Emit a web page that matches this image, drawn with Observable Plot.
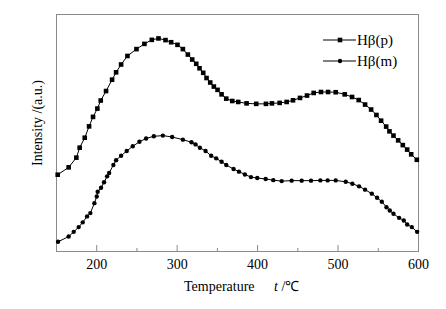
<!DOCTYPE html>
<html>
<head>
<meta charset="utf-8">
<script src="https://cdn.jsdelivr.net/npm/d3@7"></script>
<script src="https://cdn.jsdelivr.net/npm/@observablehq/plot@0.6"></script>
<style>
  html, body { margin: 0; padding: 0; background: #fff; }
  #chart { width: 446px; height: 309px; }
</style>
</head>
<body>
<div id="chart"></div>
<script>
// Hβ(p) series (squares): temperature (°C) and intensity (a.u.)
const tempP = [151.5,165.1,174.7,178.8,185.1,190.5,195.4,200.8,205.0,211.6,219.1,224.1,230.3,238.2,249.4,259.3,268.5,276.8,285.5,292.5,300.4,307.1,313.3,318.7,323.7,327.8,332.4,336.5,341.1,345.6,350.2,355.2,361.0,368.5,375.9,386.3,398.3,410.4,417.8,427.4,436.1,444.0,452.7,461.4,469.7,478.8,487.6,497.1,508.3,517.4,525.7,533.6,541.1,547.7,553.5,559.8,563.9,568.9,574.7,580.5,585.9,590.9,597.9];
const intP = [32.4,35.5,39.6,43.8,48.0,52.8,56.8,60.3,63.7,67.7,72.5,75.6,78.9,82.5,85.4,87.6,89.3,89.9,89.2,88.3,87.2,85.4,83.1,81.0,79.2,77.3,75.4,73.2,71.3,69.6,68.2,66.3,64.5,63.5,63.1,62.5,62.3,62.3,62.5,62.7,63.1,63.8,64.8,65.8,66.9,67.3,67.3,67.2,66.3,65.2,63.9,62.0,59.9,57.6,55.2,52.7,50.7,48.9,46.9,44.9,43.0,41.0,38.7];

// Hβ(m) series (circles)
const tempM = [151.9,165.1,171.4,177.6,182.6,188.0,192.1,197.1,200.0,201.2,205.4,209.1,212.9,215.4,220.7,224.1,230.3,237.3,244.8,253.1,261.4,271.0,282.2,293.8,307.1,317.8,322.8,328.2,335.3,342.3,348.5,355.2,361.0,370.1,376.8,384.2,391.7,399.6,410.0,419.5,429.9,442.3,454.8,466.4,478.0,487.1,497.1,509.5,517.8,526.1,533.6,541.9,548.5,554.4,560.2,564.3,568.9,575.9,581.7,585.9,591.7,598.3];
const intM = [4.1,6.3,8.3,10.3,12.3,14.8,16.2,20.4,23.2,25.2,26.9,29.2,31.7,33.1,36.5,38.5,40.4,42.4,44.4,46.3,47.7,48.6,48.9,48.3,47.2,46.1,45.2,43.8,42.4,40.4,39.3,37.9,36.5,34.8,33.7,32.5,31.4,31.0,30.6,30.1,29.7,29.9,29.9,29.9,30.0,30.0,30.0,29.4,28.6,27.5,26.1,24.4,22.7,21.0,18.7,17.3,15.9,14.2,13.1,11.4,10.3,8.3];

const majorTicks = [200, 300, 400, 500, 600];
const minorTicks = [250, 350, 450, 550];
const seriesNames = ["Hβ(p)", "Hβ(m)"];
const xLabel = "Temperature";
const xUnitVar = "t";
const xUnit = " /℃";
const yLabel = "Intensity /(a.u.)";

const dataP = tempP.map((t, i) => ({t, v: intP[i]}));
const dataM = tempM.map((t, i) => ({t, v: intM[i]}));

const W = 446, H = 309;
const mT = 14, mB = 58, mL = 56, mR = 28;
const innerH = H - mT - mB;
const frameColor = "#8a8a8a";
const font = "Liberation Serif, Times New Roman, serif";
const rSq = 2.6, rCi = 2.2;

const plot = Plot.plot({
  width: W,
  height: H,
  marginTop: mT,
  marginBottom: mB,
  marginLeft: mL,
  marginRight: mR,
  style: {fontFamily: font, fontSize: "14px", background: "#fff", color: "#000"},
  x: {domain: [150, 600]},
  y: {domain: [0, 100]},
  marks: [
    Plot.frame({stroke: frameColor, strokeWidth: 1}),
    Plot.tickX(majorTicks, {x: d => d, stroke: frameColor, insetTop: innerH - 6}),
    Plot.tickX(minorTicks, {x: d => d, stroke: frameColor, insetTop: innerH - 3}),
    Plot.axisX(majorTicks, {tickSize: 0, tickPadding: 8, label: null, fontSize: 14, fill: "#000"}),
    Plot.axisY([], {label: null, tickSize: 0}),
    Plot.line(dataP, {x: "t", y: "v", stroke: "#000", strokeWidth: 1}),
    Plot.dot(dataP, {x: "t", y: "v", symbol: "square", r: rSq, fill: "#000", stroke: "none"}),
    Plot.line(dataM, {x: "t", y: "v", stroke: "#000", strokeWidth: 1}),
    Plot.dot(dataM, {x: "t", y: "v", symbol: "circle", r: rCi, fill: "#000", stroke: "none"})
  ]
});

document.getElementById("chart").appendChild(plot);

const svg = d3.select(plot);

// x-axis label with italic variable
const xl = svg.append("text")
  .attr("y", 290.5)
  .attr("text-anchor", "start")
  .attr("font-family", font)
  .attr("font-size", 14)
  .attr("fill", "#000");
xl.append("tspan").attr("x", 184).text(xLabel);
xl.append("tspan").attr("x", 274).attr("font-style", "italic").text(xUnitVar);
xl.append("tspan").text(xUnit);

// y-axis label
svg.append("text")
  .attr("transform", "translate(41.5,123) rotate(-90)")
  .attr("text-anchor", "middle")
  .attr("font-family", font)
  .attr("font-size", 14)
  .attr("fill", "#000")
  .text(yLabel);

// legend
const legendRows = [
  {name: seriesNames[0], symbol: d3.symbolSquare, size: Math.PI * rSq * rSq, y: 40},
  {name: seriesNames[1], symbol: d3.symbolCircle, size: Math.PI * rCi * rCi, y: 61}
];
const lg = svg.append("g");
legendRows.forEach(r => {
  lg.append("line").attr("x1", 323).attr("x2", 356).attr("y1", r.y).attr("y2", r.y)
    .attr("stroke", "#000").attr("stroke-width", 1);
  lg.append("path").attr("d", d3.symbol(r.symbol, r.size)()).attr("transform", `translate(340,${r.y})`)
    .attr("fill", "#000");
  lg.append("text").attr("x", 357).attr("y", r.y).attr("dy", "0.35em")
    .attr("text-anchor", "start")
    .attr("font-family", font).attr("font-size", 15).attr("fill", "#000").text(r.name);
});
</script>
</body>
</html>
